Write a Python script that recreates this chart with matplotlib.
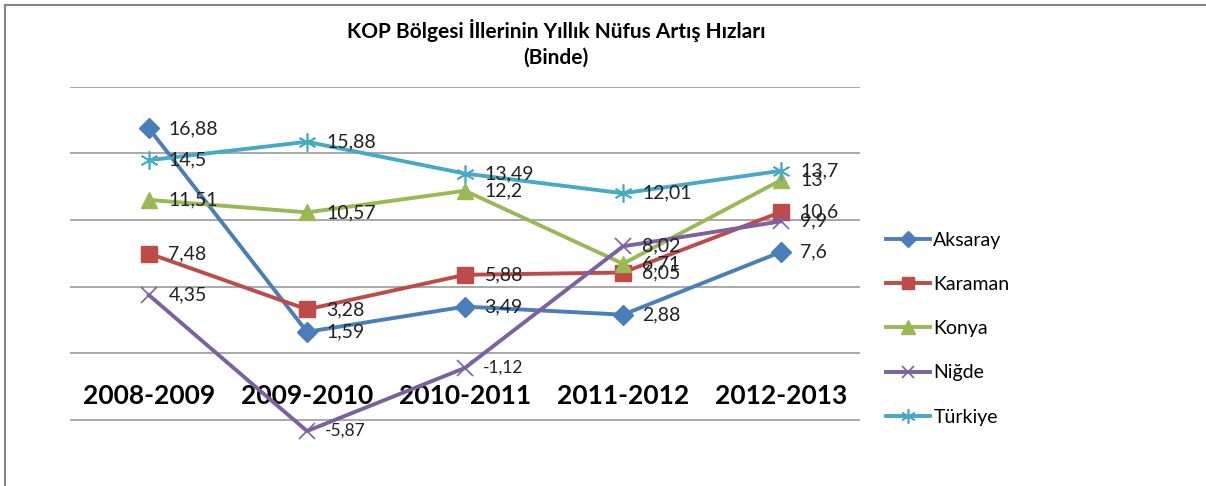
import matplotlib
matplotlib.use("Agg")
import matplotlib.pyplot as plt
from matplotlib.lines import Line2D

# veriler
years = ["2008-2009", "2009-2010", "2010-2011", "2011-2012", "2012-2013"]
aksaray = [16.88, 1.59, 3.49, 2.88, 7.6]
karaman = [7.48, 3.28, 5.88, 6.05, 10.6]
konya = [11.51, 10.57, 12.2, 6.71, 13]
nigde = [4.35, -5.87, -1.12, 8.02, 9.9]
turkiye = [14.5, 15.88, 13.49, 12.01, 13.7]

series = [
    ("Aksaray", aksaray, "#4A7EBB", dict(marker="D", markersize=10)),
    ("Karaman", karaman, "#BE4B48", dict(marker="s", markersize=11)),
    ("Konya", konya, "#98B954", dict(marker="^", markersize=12)),
    ("Niğde", nigde, "#7D60A0", dict(marker="x", markersize=11, markeredgewidth=1.2)),
    ("Türkiye", turkiye, "#46AAC5", dict(marker=(6, 2, 0), markersize=13, markeredgewidth=1.2)),
]

plt.rcParams["font.family"] = ["Lato", "DejaVu Sans"]

fig = plt.figure(figsize=(12.06, 4.86), dpi=100)
ax = fig.add_axes([70 / 1206, 0, 790 / 1206, (486 - 87) / 486])

x = list(range(len(years)))
for name, vals, col, mk in series:
    ax.plot(x, vals, color=col, lw=2.8, label=name, markeredgecolor=col,
            markerfacecolor=col, clip_on=False, **mk)
    for xi, v in zip(x, vals):
        txt = ("%g" % v).replace(".", ",")
        if v < 0:
            ax.annotate(txt, (xi, v), xytext=(13, 0), textcoords="offset points",
                        va="center", ha="left", fontsize=12.5, color="#222222")
        else:
            ax.annotate(txt, (xi, v), xytext=(14, 0), textcoords="offset points",
                        va="center", ha="left", fontsize=14, color="#222222")

ax.set_xlim(-0.5, 4.5)
ax.set_ylim(-10, 20)
for g in [-5, 0, 5, 10, 15, 20]:
    ax.axhline(g, color="#9a9a9a", lw=1.2, zorder=0)

for s in ["top", "right", "left"]:
    ax.spines[s].set_visible(False)
ax.spines["bottom"].set_position(("data", 0))
ax.spines["bottom"].set_visible(False)
ax.set_yticks([])
ax.set_xticks(x)
ax.set_xticklabels(years, fontsize=19, fontweight="bold")
ax.tick_params(axis="x", length=0, pad=22)
for t in ax.get_xticklabels():
    t.set_zorder(1)

fig.text(556 / 1206, 1 - 30 / 486, "KOP Bölgesi İllerinin Yıllık Nüfus Artış Hızları",
         ha="center", va="center", fontsize=15, fontweight="bold")
fig.text(556 / 1206, 1 - 58 / 486, "(Binde)", ha="center", va="center",
         fontsize=15, fontweight="bold")

fig.legend(loc="upper left", bbox_to_anchor=(876 / 1206, 1 - 222 / 486),
           frameon=False, fontsize=14, labelspacing=1.4, handlelength=2.3,
           handletextpad=0.15, borderpad=0, markerscale=0.8)

# grafik çerçevesi
fig.add_artist(Line2D([5 / 1206, 5 / 1206], [0, 1 - 5 / 486], color="#868686", lw=1.5))
fig.add_artist(Line2D([5 / 1206, 1], [1 - 5 / 486, 1 - 5 / 486], color="#868686", lw=1.5))

fig.savefig("out.png", dpi=100)
